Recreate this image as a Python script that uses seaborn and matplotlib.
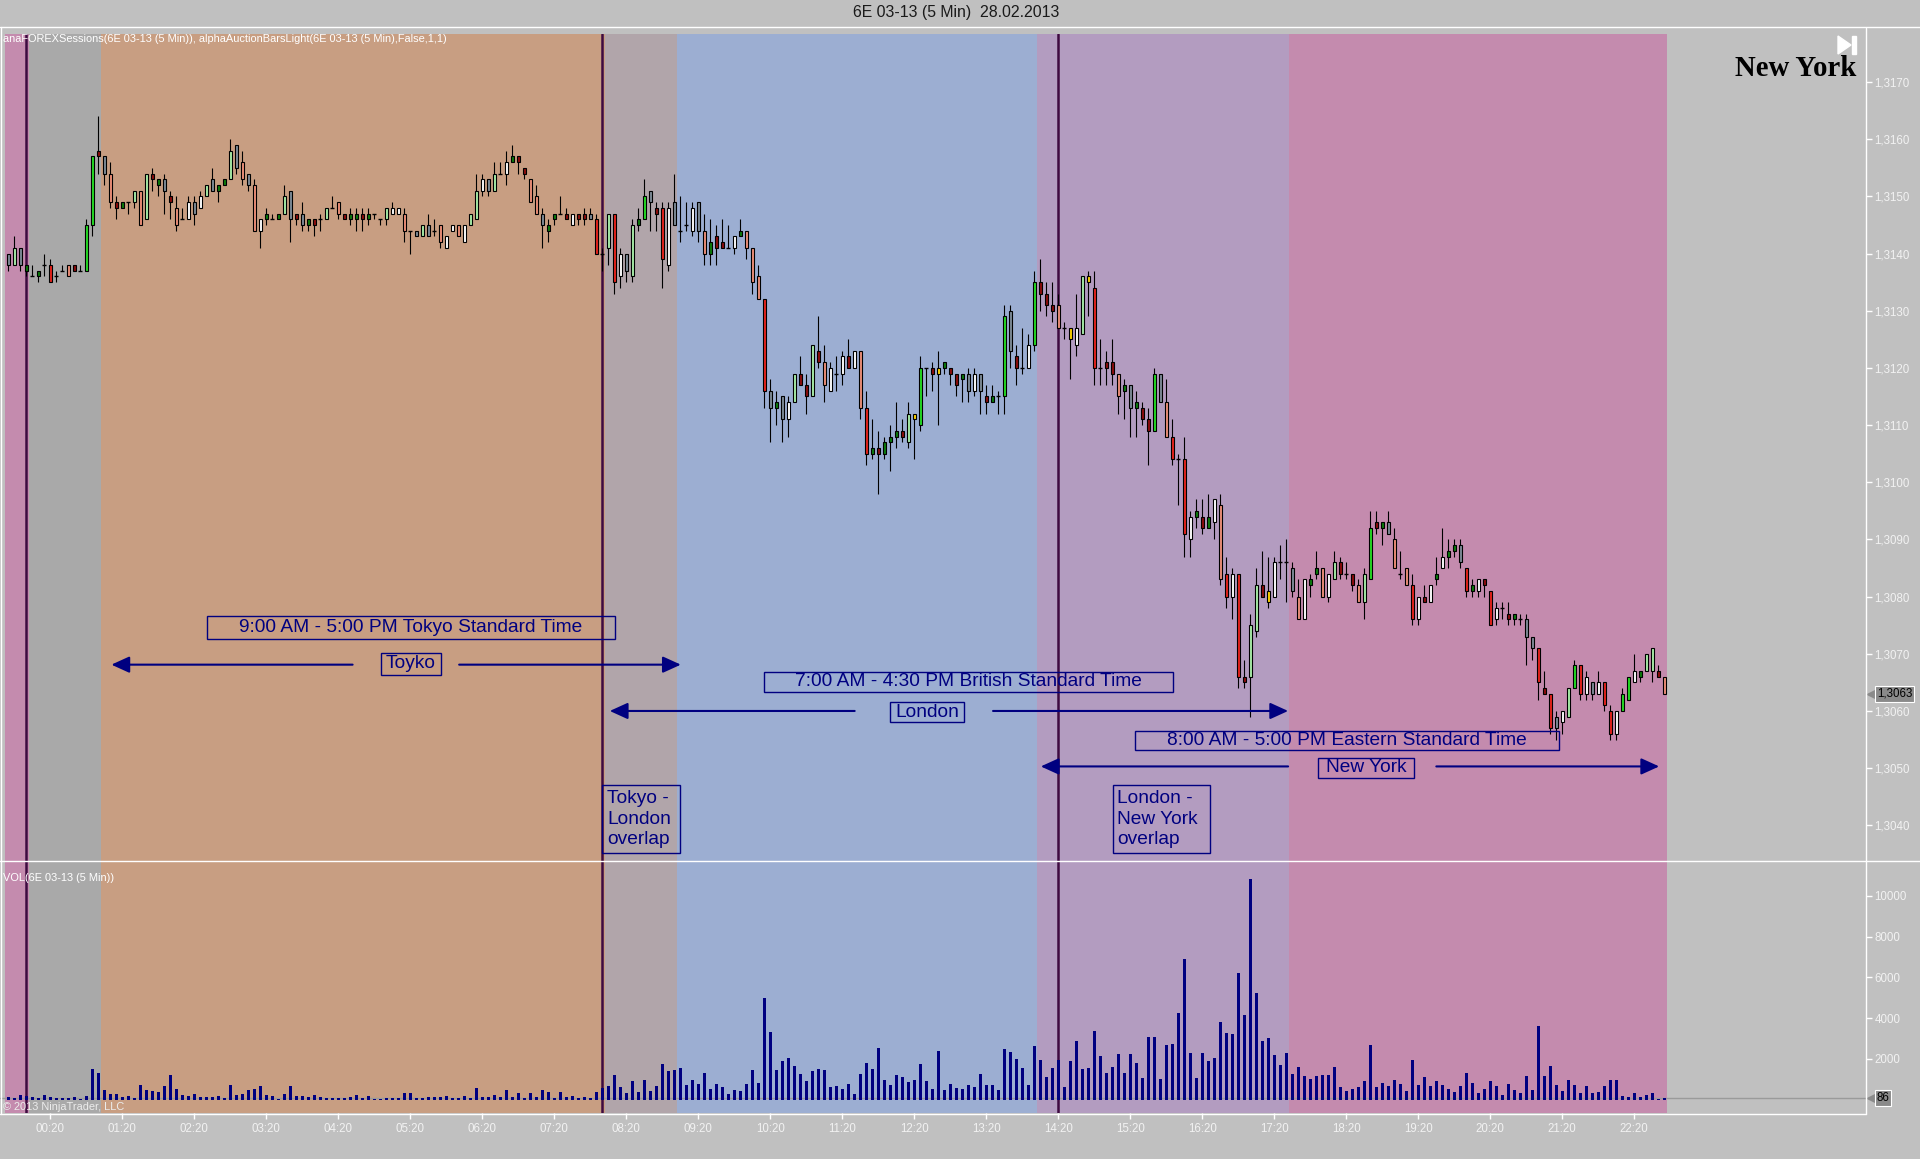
import matplotlib
matplotlib.use("Agg")
import matplotlib.pyplot as plt
import matplotlib.patches as mpatches
import matplotlib.transforms as mtransforms
from matplotlib.lines import Line2D
from matplotlib.ticker import FuncFormatter
import numpy as np
import pandas as pd
import seaborn as sns

W, H = 1920, 1159

# 5 minute bars, x in minutes after midnight (first bar is 23:45 of the previous day)
first_bar = -15
bar_step = 5
price_base = 1.3100  # candle values are pips above this

opens = [40, 38, 41, 38, 36, 36, 38, 38, 36, 37, 38, 38,
         37, 37, 45, 58, 57, 54, 49, 48, 49, 49, 51, 46,
         54, 52, 53, 50, 48, 46, 46, 49, 48, 50, 53, 51,
         52, 53, 59, 56, 54, 52, 44, 46, 46, 46, 47, 51,
         47, 47, 45, 46, 46, 46, 48, 49, 47, 46, 46, 47,
         46, 47, 46, 46, 47, 47, 47, 44, 44, 43, 45, 44,
         45, 41, 44, 45, 42, 45, 46, 51, 53, 51, 54, 54,
         56, 57, 55, 53, 50, 47, 44, 46, 47, 47, 45, 47,
         47, 47, 46, 40, 41, 47, 36, 40, 36, 45, 46, 51,
         48, 48, 38, 49, 44, 45, 44, 49, 44, 40, 43, 42,
         41, 41, 43, 44, 41, 36, 32, 16, 13, 15, 11, 14,
         19, 17, 15, 23, 21, 16, 19, 19, 22, 20, 23, 13,
         5, 6, 5, 7, 8, 9, 7, 11, 10, 20, 20, 19,
         20, 20, 19, 18, 19, 16, 19, 15, 14, 15, 15, 30,
         22, 20, 20, 24, 35, 33, 31, 31, 27, 27, 24, 26,
         36, 34, 20, 21, 21, 19, 16, 17, 13, 13, 11, 9,
         19, 14, 8, 4, 4, -10, -6, -6, -8, -7, -4, -16,
         -20, -16, -34, -34, -26, -18, -21, -20, -14, -14, -15, -20,
         -24, -18, -16, -15, -20, -17, -14, -16, -16, -18, -21, -17,
         -7, -8, -7, -10, -16, -15, -18, -24, -20, -21, -17, -15,
         -13, -12, -11, -15, -19, -19, -17, -19, -24, -22, -23, -24,
         -24, -24, -27, -29, -36, -37, -41, -42, -41, -36, -32, -37,
         -35, -37, -35, -40, -44, -40, -38, -35, -34, -33, -33, -33,
         -34]

highs = [40, 43, 41, 38, 38, 37, 40, 39, 37, 38, 38, 38,
         38, 46, 57, 64, 57, 56, 50, 49, 49, 51, 51, 54,
         55, 53, 54, 51, 50, 48, 50, 50, 51, 52, 55, 52,
         53, 60, 59, 58, 54, 53, 46, 48, 47, 47, 52, 51,
         47, 49, 46, 46, 47, 48, 50, 49, 47, 48, 48, 48,
         48, 47, 46, 48, 49, 48, 48, 44, 44, 45, 47, 46,
         45, 43, 45, 45, 45, 47, 54, 54, 53, 56, 56, 58,
         59, 57, 55, 53, 52, 48, 46, 47, 50, 48, 47, 47,
         48, 48, 47, 41, 47, 47, 41, 40, 46, 48, 53, 51,
         49, 49, 49, 54, 50, 49, 49, 49, 47, 46, 45, 46,
         45, 43, 46, 44, 41, 38, 32, 18, 16, 15, 15, 19,
         22, 19, 24, 29, 24, 21, 22, 23, 25, 23, 23, 16,
         11, 9, 8, 10, 14, 11, 14, 12, 22, 20, 21, 23,
         21, 20, 19, 19, 20, 20, 19, 17, 17, 16, 31, 31,
         24, 27, 26, 37, 39, 35, 35, 33, 28, 27, 33, 36,
         37, 37, 25, 23, 25, 19, 18, 17, 16, 14, 13, 20,
         19, 18, 11, 5, 8, -5, -3, -3, -2, -3, -2, -13,
         -15, -16, -31, -23, -15, -12, -13, -13, -11, -10, -14, -17,
         -17, -16, -12, -15, -16, -12, -13, -14, -16, -17, -15, -5,
         -5, -7, -5, -8, -12, -15, -16, -20, -18, -18, -13, -8,
         -10, -10, -10, -15, -17, -17, -17, -19, -21, -21, -21, -23,
         -23, -23, -27, -29, -33, -37, -40, -40, -36, -31, -32, -33,
         -35, -33, -35, -39, -40, -36, -34, -30, -33, -30, -29, -32,
         -34]

lows = [37, 38, 37, 36, 36, 35, 36, 35, 35, 37, 36, 37,
        37, 37, 43, 54, 52, 48, 46, 48, 47, 48, 45, 46,
        51, 50, 47, 46, 44, 46, 46, 45, 48, 50, 51, 49,
        52, 53, 54, 52, 51, 44, 41, 45, 46, 46, 47, 42,
        45, 44, 44, 43, 44, 46, 48, 46, 46, 45, 44, 44,
        45, 46, 45, 45, 47, 47, 42, 40, 43, 43, 43, 43,
        41, 41, 44, 43, 42, 45, 46, 50, 50, 51, 54, 52,
        56, 54, 53, 49, 47, 41, 42, 45, 47, 46, 45, 45,
        45, 46, 40, 37, 38, 33, 34, 35, 35, 44, 46, 44,
        44, 34, 37, 45, 42, 44, 43, 42, 38, 38, 38, 41,
        41, 40, 43, 39, 33, 32, 13, 7, 10, 7, 8, 14,
        17, 12, 15, 20, 14, 16, 16, 17, 20, 20, 11, 3,
        4, -2, 4, 2, 6, 7, 6, 4, 9, 15, 16, 10,
        19, 17, 15, 14, 14, 15, 12, 12, 14, 12, 12, 20,
        17, 19, 20, 23, 30, 29, 28, 27, 25, 18, 22, 26,
        29, 17, 17, 17, 17, 12, 11, 8, 8, 10, 3, 9,
        14, 8, 3, -4, -13, -13, -8, -9, -8, -10, -18, -22,
        -24, -36, -36, -41, -27, -20, -22, -20, -17, -21, -20, -24,
        -24, -20, -17, -20, -21, -17, -17, -17, -19, -21, -24, -17,
        -9, -11, -9, -15, -17, -18, -25, -25, -21, -21, -18, -15,
        -15, -13, -15, -20, -20, -20, -20, -25, -25, -24, -25, -25,
        -25, -32, -31, -38, -37, -44, -45, -44, -41, -36, -38, -38,
        -38, -37, -40, -45, -45, -40, -38, -35, -35, -33, -35, -34,
        -37]

closes = [38, 41, 38, 37, 36, 37, 38, 35, 36, 37, 36, 37,
          37, 45, 57, 57, 54, 49, 48, 49, 49, 51, 45, 54,
          53, 53, 51, 49, 45, 46, 49, 47, 50, 52, 51, 52,
          53, 58, 55, 53, 52, 44, 46, 47, 46, 47, 50, 46,
          46, 45, 46, 45, 46, 48, 48, 47, 46, 47, 47, 46,
          47, 47, 46, 48, 48, 48, 44, 44, 43, 45, 43, 44,
          42, 43, 45, 43, 45, 47, 51, 53, 51, 54, 54, 56,
          57, 56, 54, 49, 47, 45, 45, 47, 47, 46, 47, 46,
          46, 46, 40, 40, 47, 35, 40, 37, 45, 46, 50, 49,
          47, 39, 48, 45, 44, 45, 48, 44, 40, 42, 41, 41,
          41, 43, 44, 41, 35, 32, 16, 13, 14, 11, 14, 19,
          17, 15, 24, 21, 17, 20, 19, 22, 20, 23, 13, 5,
          6, 5, 7, 8, 9, 8, 12, 12, 20, 20, 19, 20,
          21, 19, 17, 19, 16, 19, 16, 14, 15, 15, 29, 23,
          20, 20, 24, 35, 33, 31, 30, 27, 27, 25, 27, 36,
          35, 20, 20, 20, 19, 15, 17, 13, 14, 11, 9, 19,
          14, 8, 4, 4, -9, -6, -5, -8, -6, -3, -17, -20,
          -16, -34, -35, -25, -18, -20, -19, -14, -14, -14, -19, -24,
          -17, -17, -15, -20, -16, -14, -16, -16, -18, -21, -16, -8,
          -8, -7, -9, -15, -16, -18, -24, -20, -21, -18, -16, -13,
          -12, -11, -14, -19, -18, -17, -18, -25, -22, -22, -24, -23,
          -24, -27, -29, -35, -37, -43, -43, -40, -36, -32, -37, -34,
          -37, -35, -39, -44, -40, -37, -34, -33, -33, -30, -29, -34,
          -37]

# bar colouring of the auction bars indicator, one letter per bar (D = doji)
bar_codes = ("SLSgDgDRDDPr" "DGGrSPrgDLPL" "rgSrPDWSWLSg" "gLSPSPWgDgLS"
             "rSgrDLDPrggr" "gDDLWWPDSLSD" "PWWPWLLWSLDW" "grrPPSggDrWr"
             "rSRDLRWSLgGS" "rRWSDDWSPgrr" "DWgPPPRSgSWL" "rrLrPWDWrWPR"
             "grgggrLYGDrY" "grrgSWSrgDGS" "rDWGrrrPDYWL"
             "YRDrrPgSgrrG" "SPRDRWgrgWPR" "WRrLLrYWDDSP" "WggPWLrDrPLG"
             "rgSPDPRWrWgW" "ggSRgWrRWDrg" "DSSRrRSWLGRW" "SWRRWGGWgLLr"
             "P")

volumes = [115, 100, 240, 170, 115, 70, 240, 115, 70, 70, 70, 115,
           40, 180, 1500, 1300, 490, 290, 290, 150, 180, 70, 740, 490,
           440, 390, 650, 1200, 540, 240, 180, 290, 150, 150, 150, 180,
           100, 740, 240, 290, 490, 540, 690, 240, 180, 35, 290, 690,
           180, 180, 150, 240, 150, 100, 100, 70, 70, 115, 240, 100,
           180, 40, 35, 70, 70, 70, 340, 340, 70, 70, 115, 115,
           150, 180, 100, 70, 180, 70, 590, 150, 150, 240, 115, 490,
           150, 340, 70, 340, 150, 490, 390, 70, 360, 115, 165, 65,
           115, 65, 360, 560, 660, 1210, 610, 315, 910, 360, 960, 410,
           660, 1750, 1410, 1460, 1560, 710, 960, 760, 1310, 510, 760, 610,
           265, 465, 415, 760, 1460, 810, 4980, 3340, 1460, 1900, 2050, 1660,
           1260, 910, 1410, 1510, 1460, 610, 660, 510, 760, 265, 1260, 1800,
           1510, 2550, 960, 710, 1210, 1110, 860, 960, 1750, 910, 510, 2400,
           465, 760, 560, 510, 710, 610, 1260, 710, 710, 465, 2500, 2350,
           2000, 1560, 710, 2650, 1950, 1110, 1560, 1950, 610, 1900, 2900, 1510,
           1560, 3390, 2150, 1310, 1590, 2220, 1330, 2220, 1780, 1040, 3060, 3060,
           990, 2670, 2720, 4250, 6920, 2270, 1040, 2270, 1880, 2030, 3810, 3260,
           3210, 6230, 4150, 10820, 5240, 2870, 3020, 2180, 1680, 2270, 1240, 1580,
           1140, 990, 1140, 1190, 1190, 1580, 640, 445, 545, 595, 890, 2670,
           595, 840, 690, 940, 790, 445, 1930, 740, 1090, 690, 890, 740,
           545, 395, 645, 1330, 840, 300, 545, 890, 645, 250, 790, 495,
           300, 1140, 495, 3610, 1140, 1630, 740, 445, 940, 740, 300, 645,
           345, 395, 690, 940, 940, 200, 150, 300, 150, 250, 300, 50,
           86]

fill_colors = {'G': '#24dc24', 'g': '#0c7c0c', 'L': '#a8eea8', 'W': '#ffffff',
               'R': '#e6231c', 'r': '#8c0c0c', 'P': '#ee8f78', 'S': '#7d8b97',
               'Y': '#ffd400'}

# trading sessions (start, end in minutes, colour)
sessions = [(-17.5, 2.5, '#c48bae'), (2.5, 62.5, '#a9a9a9'),
            (62.5, 482.5, '#c89e82'), (482.5, 542.5, '#b1a5aa'),
            (542.5, 842.5, '#9caed2'), (842.5, 1052.5, '#b39cc0'),
            (1052.5, 1367.5, '#c48bae')]
session_lines = [0, 480, 860]

price_ticks = [1.3040 + 0.001 * k for k in range(14)]
volume_ticks = [2000, 4000, 6000, 8000, 10000]
hour_ticks = [20 + 60 * k for k in range(23)]
hour_labels = ["%02d:20" % k for k in range(23)]

navy = '#000080'
bg = '#c0c0c0'
label_size = 13.8


def fx(x):
    return x / W


def fy(y):
    return 1 - y / H


sns.set_theme(style="ticks", rc={"axes.facecolor": bg, "figure.facecolor": bg})
plt.rcParams['font.family'] = ['Liberation Sans', 'DejaVu Sans']

times = np.array([first_bar + bar_step * i for i in range(len(opens))], dtype=float)
o = price_base + np.array(opens) / 1e4
h = price_base + np.array(highs) / 1e4
l = price_base + np.array(lows) / 1e4
c = price_base + np.array(closes) / 1e4
codes = np.array(list(bar_codes))

fig = plt.figure(figsize=(W / 100, H / 100), dpi=100, facecolor=bg)
ax = fig.add_axes([0, fy(861), fx(1866), (861 - 34) / H])
axv = fig.add_axes([0, fy(1113), fx(1866), (1113 - 861) / H], sharex=ax)

for a in (ax, axv):
    a.set_facecolor(bg)
    for s in a.spines.values():
        s.set_visible(False)
    for t0, t1, col in sessions:
        a.axvspan(t0, t1, color=col, lw=0, zorder=0)
    for t in session_lines:
        a.axvline(t, color='#3e0a40', lw=1.8, zorder=2)

# candles
ax.vlines(times, l, h, colors='black', lw=0.8, zorder=3)
doji = (codes == 'D') | (o == c)
body_low = np.minimum(o, c)
body_h = np.abs(c - o)
ax.bar(times[~doji], body_h[~doji], bottom=body_low[~doji], width=2.8,
       color=[fill_colors[k] for k in codes[~doji]], edgecolor='black',
       linewidth=0.8, zorder=4)
ax.hlines(o[doji], times[doji] - 1.5, times[doji] + 1.5, colors='black', lw=1.0, zorder=4)

# volume
vol_df = pd.DataFrame({'time': times, 'volume': volumes})
sns.barplot(data=vol_df, x='time', y='volume', native_scale=True, color=navy,
            saturation=1, width=0.45, errorbar=None, ax=axv, zorder=3,
            edgecolor=navy, linewidth=0)
axv.axhline(volumes[-1], color='#9a9a9a', lw=1, zorder=2)
axv.set_xlabel('')
axv.set_ylabel('')

ax.set_xlim(-26.2 / 1.2, (1866 - 26.2) / 1.2)
ax.set_ylim(1.303376, 1.31784)
axv.set_ylim(-658, 11719)

# axes ticks on the right
for a in (ax, axv):
    a.yaxis.tick_right()
    a.tick_params(axis='y', colors='white', length=4, width=1, labelsize=8.3,
                  labelcolor='#f2f2f2', pad=2, direction='out')
    a.grid(False)
ax.set_yticks(price_ticks)
ax.yaxis.set_major_formatter(FuncFormatter(lambda v, p: ("%.4f" % v).replace('.', ',')))
ax.tick_params(axis='x', bottom=False, labelbottom=False)
axv.set_yticks(volume_ticks)
axv.yaxis.set_major_formatter(FuncFormatter(lambda v, p: "%d" % v))
axv.set_xticks(hour_ticks)
axv.set_xticklabels(hour_labels)
axv.tick_params(axis='x', colors='white', length=4, width=1, labelsize=8.3,
                labelcolor='#f2f2f2', pad=3, direction='out')


# session annotations
def label_box(t0, t1, p0, p1, text, tx=None, ha='center'):
    ax.add_patch(mpatches.Rectangle((t0, p0), t1 - t0, p1 - p0, fill=False,
                                    ec=navy, lw=1.0, zorder=6))
    x = (t0 + t1) / 2 if tx is None else tx
    ax.text(x, (p0 + p1) / 2, text, ha=ha, va='center', color=navy,
            fontsize=label_size, linespacing=1.3, zorder=7)


def arrow(t_tail, t_head, p):
    ax.annotate('', xy=(t_head, p), xytext=(t_tail, p),
                arrowprops=dict(arrowstyle='-|>,head_length=0.55,head_width=0.25',
                                color=navy, lw=1.5, mutation_scale=20,
                                shrinkA=0, shrinkB=0), zorder=6)


label_box(150.6, 490.4, 1.30726, 1.30766, '9:00 AM - 5:00 PM Tokyo Standard Time')
label_box(295.5, 345.5, 1.30663, 1.30702, 'Toyko')
arrow(272, 71, 1.30681)
arrow(360.8, 545.5, 1.30681)

label_box(614.9, 955.7, 1.30634, 1.30668, '7:00 AM - 4:30 PM British Standard Time')
label_box(720, 781.2, 1.30580, 1.30616, 'London')
arrow(690.4, 486.3, 1.30600)
arrow(805.7, 1051.6, 1.30600)

label_box(924.1, 1277.2, 1.30531, 1.30565, '8:00 AM - 5:00 PM Eastern Standard Time')
label_box(1076.2, 1156.8, 1.30483, 1.30518, 'New York')
arrow(1051.6, 845.5, 1.30503)
arrow(1175.1, 1360.8, 1.30503)

label_box(480.2, 544.5, 1.30351, 1.30471, 'Tokyo -\nLondon\noverlap', tx=484.3, ha='left')
label_box(905.7, 986.4, 1.30351, 1.30471, 'London -\nNew York\noverlap', tx=908.8, ha='left')

# last price / last volume tags
for a, val, txt in ((ax, c[-1], ("%.4f" % c[-1]).replace('.', ',')),
                    (axv, volumes[-1], str(volumes[-1]))):
    tr = mtransforms.blended_transform_factory(a.transAxes, a.transData)
    a.plot([1.0035], [val], marker='<', ms=8, color='#8a8a8a', transform=tr,
           clip_on=False, zorder=8)
    a.text(1.0058, val, txt, transform=tr, ha='left', va='center', fontsize=8.3,
           color='black', clip_on=False, zorder=9,
           bbox=dict(boxstyle='square,pad=0.15', fc='#8a8a8a', ec='white', lw=0.8))

# frame lines
for xs, ys in (((0, W), (27, 27)), ((0, W), (861, 861)), ((1866, 1866), (28, 1114)),
               ((0, 1866), (1114, 1114)), ((1, 1), (27, 1114))):
    fig.add_artist(Line2D([fx(x) for x in xs], [fy(y) for y in ys], color='white',
                          lw=1.0, transform=fig.transFigure))

fig.text(fx(956), fy(13), '6E 03-13 (5 Min)  28.02.2013', ha='center', va='center',
         fontsize=11.4, color='#1a1a1a')
fig.text(fx(3), fy(39), 'anaFOREXSessions(6E 03-13 (5 Min)), '
         'alphaAuctionBarsLight(6E 03-13 (5 Min),False,1,1)',
         ha='left', va='center', fontsize=7.9, color='white')
fig.text(fx(3), fy(878), 'VOL(6E 03-13 (5 Min))', ha='left', va='center',
         fontsize=7.9, color='white')
fig.text(fx(3), fy(1107), '\u00a9 2013 NinjaTrader, LLC', ha='left', va='center',
         fontsize=7.9, color='#ececec')
fig.text(fx(1856), fy(68), 'New York', ha='right', va='center', fontsize=20.7,
         fontweight='bold', family='Liberation Serif', color='black')

# play-to-end icon
fig.add_artist(mpatches.Polygon([(fx(1838), fy(36)), (fx(1838), fy(54)), (fx(1851), fy(45))],
                                closed=True, color='white', transform=fig.transFigure))
fig.add_artist(mpatches.Rectangle((fx(1852), fy(54)), fx(4), 18 / H, color='white',
                                  transform=fig.transFigure))

fig.savefig('out.png', dpi=100, facecolor=bg)
